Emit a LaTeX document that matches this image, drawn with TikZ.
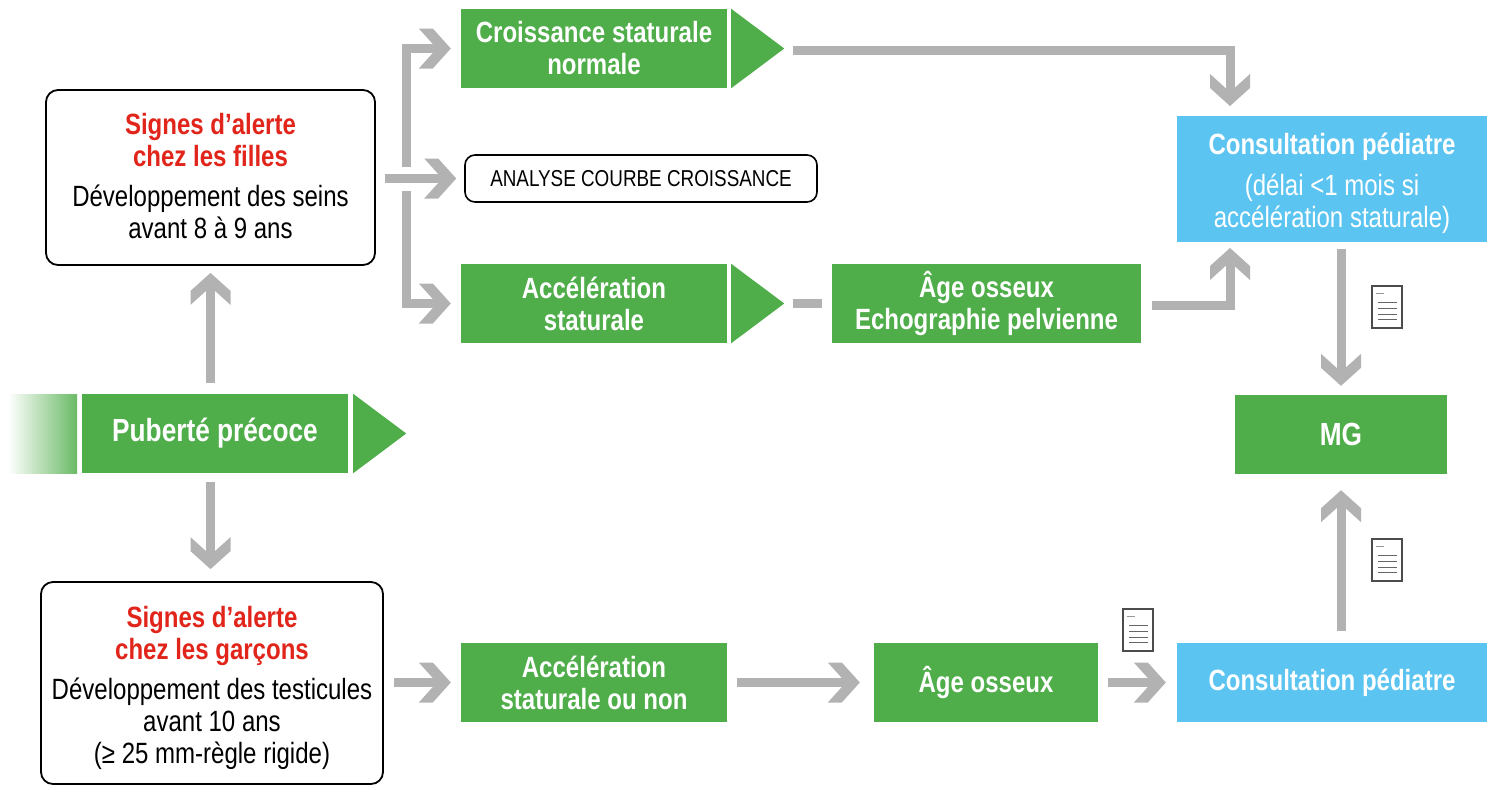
\documentclass[tikz,border=0pt]{standalone}
\usepackage{fontspec}
\setmainfont{Liberation Sans}[FakeStretch=0.82]
\usetikzlibrary{arrows.meta}
\definecolor{vert}{HTML}{4FAE4A}
\definecolor{bleu}{HTML}{5BC4F1}
\definecolor{gris}{HTML}{B2B2B2}
\definecolor{rouge}{HTML}{E1251B}
\newcommand{\alerte}[1]{\textcolor{rouge}{\bfseries #1}}
\pgfdeclarearrow{
  name = Chevron,
  setup code = {\pgfarrowssettipend{0pt}\pgfarrowssetlineend{-16pt}},
  drawing code = {
    \pgfpathmoveto{\pgfpoint{0pt}{0pt}}
    \pgfpathlineto{\pgfpoint{-18pt}{20pt}}
    \pgfpathlineto{\pgfpoint{-32pt}{20pt}}
    \pgfpathlineto{\pgfpoint{-18pt}{4.5pt}}
    \pgfpathlineto{\pgfpoint{-18pt}{-4.5pt}}
    \pgfpathlineto{\pgfpoint{-32pt}{-20pt}}
    \pgfpathlineto{\pgfpoint{-18pt}{-20pt}}
    \pgfpathclose
    \pgfusepathqfill
  }
}
\tikzset{
  etape/.style = {fill=vert,text=white,font=\fontsize{29.3}{32}\selectfont\bfseries,align=center,inner sep=0pt},
  consult/.style = {etape,fill=bleu},
  signe/.style = {draw,line width=1.8pt,rounded corners=12pt,fill=white,align=center,inner sep=0pt,font=\fontsize{29.3}{32}\selectfont},
  flux/.style = {draw=gris,line width=9pt,-Chevron},
  trait/.style = {draw=gris,line width=9pt},
  docicon/.pic = {
    \draw[black!70,line width=1.2pt,fill=white] (-15,-21) rectangle (15,21);
    \draw[black!40,line width=1pt] (-11,-14) -- (-3,-14);
    \foreach \ligne in {-5,1,7,12} \draw[black!60,line width=0.9pt] (-9,\ligne) -- (10,\ligne);
  }
}
\begin{document}
\begin{tikzpicture}[x=1pt,y=-1pt]
  \useasboundingbox (0,0) rectangle (1496,785);
  % boites
  \node[etape,font=\fontsize{32}{36}\selectfont\bfseries,minimum width=266pt,minimum height=79pt] (puberte) at (215,433.5) {Puberté précoce};
  \node[signe,minimum width=329pt,minimum height=175pt] (filles) at (210.5,177.5) {\alerte{Signes d’alerte}\\\alerte{chez les filles}\\[8pt]Développement des seins\\avant 8 à 9 ans\rule[-4pt]{0pt}{4pt}};
  \node[signe,minimum width=342pt,minimum height=202pt] (garcons) at (212,683) {\rule{0pt}{31pt}\alerte{Signes d’alerte}\\\alerte{chez les garçons}\\[8pt]Développement des testicules\\avant 10 ans\\(≥ 25 mm-règle rigide)};
  \node[etape,minimum width=266pt,minimum height=79pt] (normale) at (594,48.5) {Croissance staturale\\normale};
  \node[signe,line width=1.6pt,minimum width=352pt,minimum height=47pt,rounded corners=10pt,font=\fontsize{23}{28}\selectfont] (analyse) at (641,178.5) {ANALYSE COURBE CROISSANCE};
  \node[etape,minimum width=266pt,minimum height=79pt] (accel) at (594,303.5) {Accélération\\staturale};
  \node[etape,minimum width=309pt,minimum height=79pt] (osseux) at (986.5,303.5) {Âge osseux\\Echographie pelvienne};
  \node[consult,minimum width=310pt,minimum height=126pt] (pediatre) at (1332,179) {\rule{0pt}{31pt}Consultation pédiatre\\[9pt]\mdseries(délai \textless 1 mois si\\\mdseries accélération staturale)};
  \node[etape,font=\fontsize{32}{36}\selectfont\bfseries,minimum width=212pt,minimum height=79pt] (mg) at (1341,434.5) {MG};
  \node[etape,minimum width=266pt,minimum height=79pt] (accelg) at (594,682.5) {Accélération\\staturale ou non};
  \node[etape,minimum width=224pt,minimum height=79pt] (osseuxg) at (986,682.5) {Âge osseux};
  \node[consult,minimum width=310pt,minimum height=79pt] (pediatreg) at (1332,682.5) {Consultation pédiatre};
  % triangles
  \fill[vert] ([xshift=5pt]puberte.north east) -- ([xshift=58pt]puberte.east) -- ([xshift=5pt]puberte.south east) -- cycle;
  \fill[vert] ([xshift=4pt]normale.north east) -- ([xshift=57pt]normale.east) -- ([xshift=4pt]normale.south east) -- cycle;
  \fill[vert] ([xshift=4pt]accel.north east) -- ([xshift=57pt]accel.east) -- ([xshift=4pt]accel.south east) -- cycle;
  \shade[left color=white,right color=vert!85!white] (8,394) rectangle (77,473);
  % fleches
  \coordinate (brhaut) at (406,167);
  \coordinate (brbas) at (406,191);
  \coordinate (sortie) at (793,50);
  \coordinate (entree) at (1230,116);
  \coordinate (coude) at (1152,305);
  \coordinate (entreeb) at (1230,242);
  \draw[flux,shorten <=11pt,shorten >=7pt] (puberte.north -| filles.south) -- (filles.south);
  \draw[flux,shorten <=9pt,shorten >=12pt] (puberte.south -| filles.south) -- (garcons.north -| filles.south);
  \draw[flux,shorten <=9pt,shorten >=8pt] (filles.east |- analyse.west) -- (analyse.west);
  \draw[flux,shorten >=10pt] (brhaut) |- (normale.west);
  \draw[flux,shorten >=10pt] (brbas) |- (accel.west);
  \draw[flux,shorten >=10pt] (sortie) -| (entree);
  \draw[trait,shorten <=9pt,shorten >=10pt] ([xshift=57pt]accel.east) -- (osseux.west);
  \draw[flux,shorten >=6pt] (coude) -| (entreeb);
  \draw[flux,shorten <=7pt,shorten >=9pt] (pediatre.south -| mg.north) -- (mg.north);
  \draw[flux,shorten <=12pt,shorten >=16pt] (pediatreg.north -| mg.south) -- (mg.south);
  \draw[flux,shorten <=10pt,shorten >=10pt] (garcons.east |- accelg.west) -- (accelg.west);
  \draw[flux,shorten <=10pt,shorten >=14pt] (accelg.east) -- (osseuxg.west);
  \draw[flux,shorten <=10pt,shorten >=11pt] (osseuxg.east) -- (pediatreg.west);
  % documents
  \pic at (1387,307) {docicon};
  \pic at (1387,560) {docicon};
  \pic at (1138,630) {docicon};
\end{tikzpicture}
\end{document}
